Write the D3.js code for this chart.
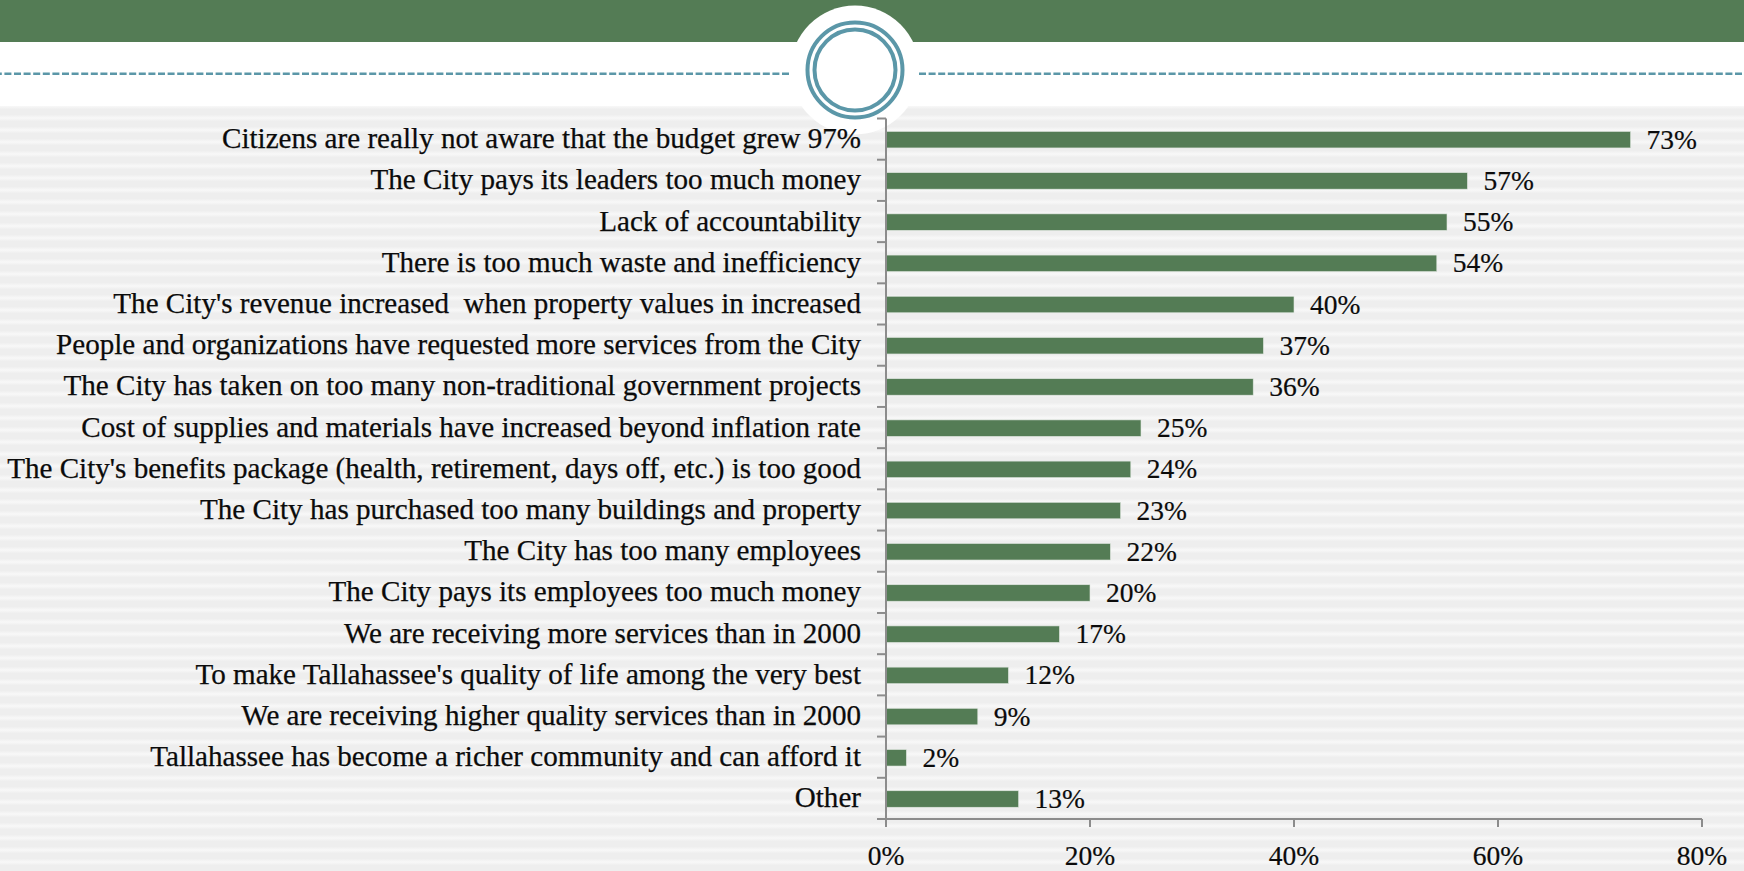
<!DOCTYPE html>
<html><head><meta charset="utf-8">
<script src="https://cdn.jsdelivr.net/npm/d3@7"></script>
<style>html,body{margin:0;padding:0;background:#fff;overflow:hidden}svg{display:block}text{font-family:"Liberation Serif",serif;fill:#0b0b0b;white-space:pre}</style>
</head><body><svg id="c" width="1744" height="871"></svg>
<script>
const categories=["Citizens are really not aware that the budget grew 97%","The City pays its leaders too much money","Lack of accountability","There is too much waste and inefficiency","The City's revenue increased  when property values in increased","People and organizations have requested more services from the City","The City has taken on too many non-traditional government projects","Cost of supplies and materials have increased beyond inflation rate","The City's benefits package (health, retirement, days off, etc.) is too good","The City has purchased too many buildings and property","The City has too many employees","The City pays its employees too much money","We are receiving more services than in 2000","To make Tallahassee's quality of life among the very best","We are receiving higher quality services than in 2000","Tallahassee has become a richer community and can afford it","Other"];
const values=[73,57,55,54,40,37,36,25,24,23,22,20,17,12,9,2,13];
const xTicks=[0,20,40,60,80];
const svg=d3.select("#c");
const green="#547c55",teal="#5b97a8",axisC="#8c8c8c";
const defs=svg.append("defs");
const lg=defs.append("linearGradient").attr("id","sg").attr("x1",0).attr("x2",0).attr("y1",0).attr("y2",1);
[[0,"#f8f8f8"],[0.28,"#eeeeee"],[0.72,"#eeeeee"],[1,"#f8f8f8"]].forEach(s=>lg.append("stop").attr("offset",s[0]).attr("stop-color",s[1]));
const p=defs.append("pattern").attr("id","st").attr("patternUnits","userSpaceOnUse").attr("width",12).attr("height",12).attr("y",106);
p.append("rect").attr("width",12).attr("height",12).attr("fill","url(#sg)");
svg.append("rect").attr("y",106).attr("width",1744).attr("height",765).attr("fill","url(#st)");
svg.append("rect").attr("width",1744).attr("height",42).attr("fill",green);
svg.append("circle").attr("cx",855).attr("cy",70).attr("r",64.5).attr("fill","#fff");
svg.append("line").attr("x1",789).attr("x2",0).attr("y1",73.7).attr("y2",73.7).attr("stroke",teal).attr("stroke-width",2.5).attr("stroke-dasharray","7 2.6");
svg.append("line").attr("x1",919).attr("x2",1744).attr("y1",73.7).attr("y2",73.7).attr("stroke",teal).attr("stroke-width",2.5).attr("stroke-dasharray","7 2.6");
svg.append("circle").attr("cx",855).attr("cy",70).attr("r",47.5).attr("fill","none").attr("stroke",teal).attr("stroke-width",4);
svg.append("circle").attr("cx",855).attr("cy",70).attr("r",40.5).attr("fill","none").attr("stroke",teal).attr("stroke-width",4);
const x=d3.scaleLinear().domain([0,80]).range([886,1702]);
const y=d3.scaleBand().domain(categories).range([119.1,819.6]).paddingInner(0.6).paddingOuter(0.3);
const g=svg.append("g");
g.selectAll("rect.b").data(values).join("rect").attr("class","b").attr("x",x(0)).attr("y",(d,i)=>y(categories[i])).attr("width",d=>x(d)-x(0)).attr("height",y.bandwidth()).attr("fill",green).attr("stroke","#dfe6df").attr("stroke-width",0.6);
g.selectAll("text.l").data(categories).join("text").attr("class","l").attr("x",861).attr("y",d=>y(d)+y.bandwidth()/2+8.5).attr("text-anchor","end").attr("font-size",29.1).attr("stroke","#0b0b0b").attr("stroke-width",0.25).text(d=>d);
g.selectAll("text.v").data(values).join("text").attr("class","v").attr("x",d=>x(d)+16).attr("y",(d,i)=>y(categories[i])+y.bandwidth()/2+9).attr("font-size",27.5).attr("stroke","#0b0b0b").attr("stroke-width",0.2).text(d=>d+"%");
const axis=svg.append("g").attr("stroke",axisC).attr("stroke-width",2);
axis.append("line").attr("x1",886).attr("x2",886).attr("y1",118.5).attr("y2",827);
axis.append("line").attr("x1",877).attr("x2",1702).attr("y1",819).attr("y2",819);
const ticks=d3.range(0,18).map(i=>118.5+i*(819-118.5)/17);
axis.selectAll("line.t").data(ticks).join("line").attr("class","t").attr("x1",877).attr("x2",886).attr("y1",d=>d).attr("y2",d=>d);
axis.selectAll("line.x").data(xTicks).join("line").attr("class","x").attr("x1",d=>x(d)).attr("x2",d=>x(d)).attr("y1",819).attr("y2",827);
svg.selectAll("text.x").data(xTicks).join("text").attr("class","x").attr("x",d=>x(d)).attr("y",865).attr("text-anchor","middle").attr("font-size",27.5).attr("stroke","#0b0b0b").attr("stroke-width",0.2).text(d=>d+"%");
</script></body></html>
